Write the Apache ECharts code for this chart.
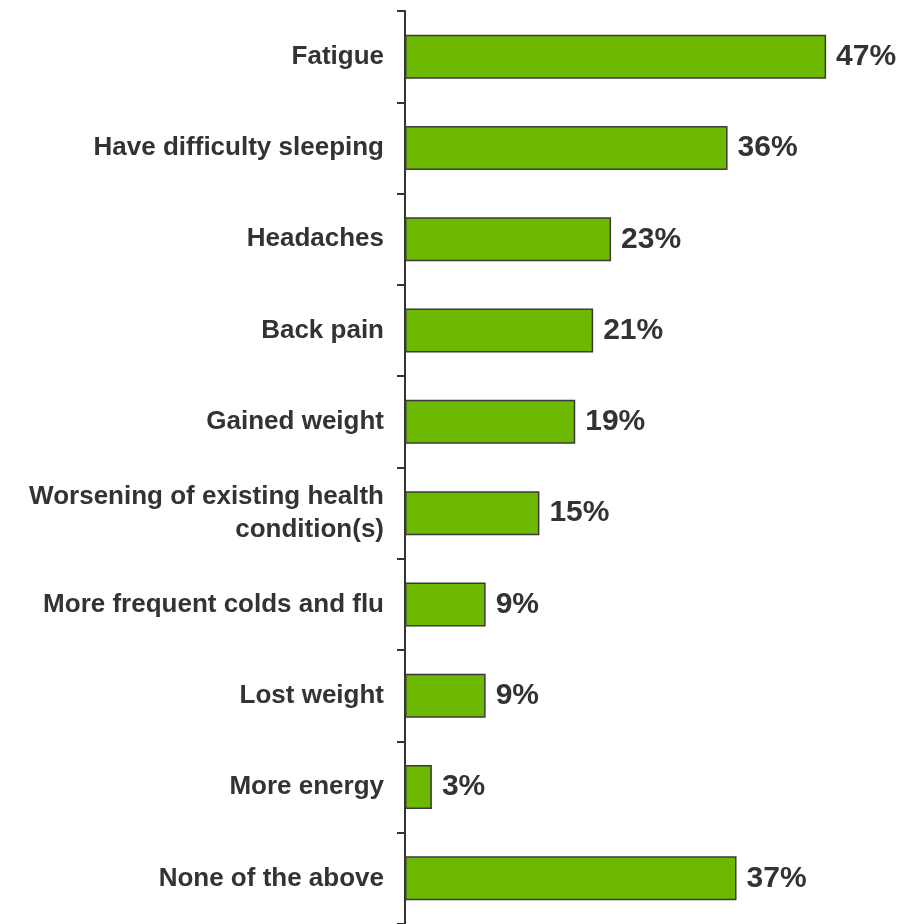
<!DOCTYPE html>
<html>
<head>
<meta charset="utf-8">
<script src="https://cdn.jsdelivr.net/npm/echarts@6/dist/echarts.min.js"></script>
<style>html,body{margin:0;padding:0;background:#fff}#c{width:913px;height:924px}</style>
</head>
<body>
<div id="c"></div>
<script>
const categories = ["Fatigue","Have difficulty sleeping","Headaches","Back pain","Gained weight","Worsening of existing health\ncondition(s)","More frequent colds and flu","Lost weight","More energy","None of the above"];
const values = [47,36,23,21,19,15,9,9,3,37];

const FONT = "'Liberation Sans', Arial, sans-serif";
const chart = echarts.init(document.getElementById('c'));
chart.setOption({
  animation:false,
  grid:{left:405,top:11,width:448,height:916},
  xAxis:{type:'value',min:0,max:50,show:false},
  yAxis:{type:'category',data:categories,inverse:true,
    axisLine:{show:true,lineStyle:{color:'#333',width:2}},
    axisTick:{show:true,length:8,lineStyle:{color:'#333',width:2}},
    axisLabel:{margin:21,color:'#333',fontFamily:FONT,fontWeight:'bold',fontSize:26,lineHeight:33,align:'right'}
  },
  series:[{type:'bar',data:values,barWidth:44,
    itemStyle:{color:'#6db800',borderColor:'#3a3a3a',borderWidth:1.5},
    label:{show:true,position:'right',distance:10,formatter:'{c}%',color:'#333',fontFamily:FONT,fontWeight:'bold',fontSize:30}
  }]
});
</script>
</body>
</html>
